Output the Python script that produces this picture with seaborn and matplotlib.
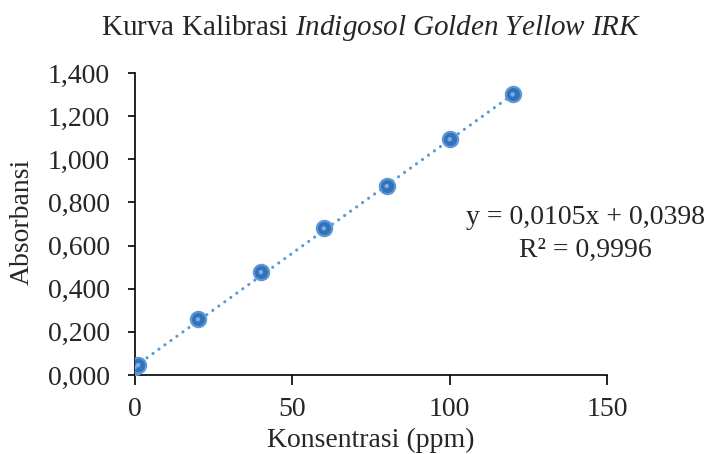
import matplotlib
matplotlib.use("Agg")
import matplotlib.pyplot as plt
import seaborn as sns
import numpy as np
import pandas as pd
from matplotlib.ticker import FuncFormatter, MultipleLocator

konsentrasi = [0, 1, 20, 40, 60, 80, 100, 120]
absorbansi = [0.036, 0.046, 0.258, 0.477, 0.680, 0.876, 1.093, 1.301]
slope = 0.0105
intercept = 0.0398
r2 = 0.9996

df = pd.DataFrame({"Konsentrasi": konsentrasi, "Absorbansi": absorbansi})
trend_x = [min(konsentrasi), max(konsentrasi)]
trend = pd.DataFrame({"x": trend_x, "y": [slope * v + intercept for v in trend_x]})

sns.set_theme(style="white")
plt.rcParams['font.family'] = ['Liberation Serif', 'DejaVu Serif']
plt.rcParams['mathtext.fontset'] = 'custom'
plt.rcParams['mathtext.rm'] = 'Liberation Serif'
plt.rcParams['mathtext.it'] = 'Liberation Serif:italic'

FS = 20

fig = plt.figure(figsize=(7.19, 4.54), dpi=100)
ax = fig.add_axes([135/719, 1-375/454, (607-135)/719, (375-73)/454])

sns.lineplot(data=trend, x="x", y="y", ax=ax, color="#5B9BD5", linewidth=2.3)
ln = ax.lines[0]
ln.set_linestyle((0, (0.01, 2.3)))
ln.set_dash_capstyle('round')

sns.scatterplot(data=df, x="Konsentrasi", y="Absorbansi", ax=ax, s=120, color="#3272BA",
                edgecolor="#5C98D6", linewidth=1.6, zorder=3)
sns.scatterplot(data=df, x="Konsentrasi", y="Absorbansi", ax=ax, s=10, color="#7DAEE2",
                edgecolor="none", linewidth=0, zorder=4)

ax.set_xlim(0, 150)
ax.set_ylim(0, 1.4)
ax.xaxis.set_major_locator(MultipleLocator(50))
ax.yaxis.set_major_locator(MultipleLocator(0.2))
ax.yaxis.set_major_formatter(FuncFormatter(lambda v, p: f"{v:.3f}".replace('.', ',')))

for s in ["top", "right"]:
    ax.spines[s].set_visible(False)
for s in ["left", "bottom"]:
    ax.spines[s].set_color("black")
    ax.spines[s].set_linewidth(1.2)
ax.tick_params(axis='x', which='major', direction='out', length=7, width=1.2, color='black',
               labelsize=FS, pad=9, bottom=True)
ax.tick_params(axis='y', which='major', direction='out', length=5, width=1.2, color='black',
               labelsize=FS, pad=13, left=True)

ax.set_xlabel("")
ax.set_ylabel("")
fig.text(371/719, 1-447/454, "Konsentrasi (ppm)", ha='center', va='baseline', fontsize=FS)
fig.text(22/719, 1-222/454, "Absorbansi", ha='center', va='center', rotation=90, fontsize=FS)
fig.text(371.5/719, 1-35/454, r"Kurva Kalibrasi $\it{Indigosol\ Golden\ Yellow\ IRK}$",
         ha='center', va='baseline', fontsize=21)

fig.text(585/719, 1-218/454, f"y = {slope:.4f}x + {intercept:.4f}".replace('.', ','),
         ha='center', va='center', fontsize=FS)
fig.text(585/719, 1-250/454, f"R² = {r2:.4f}".replace('.', ','),
         ha='center', va='center', fontsize=FS)

fig.savefig("out.png", dpi=100)
